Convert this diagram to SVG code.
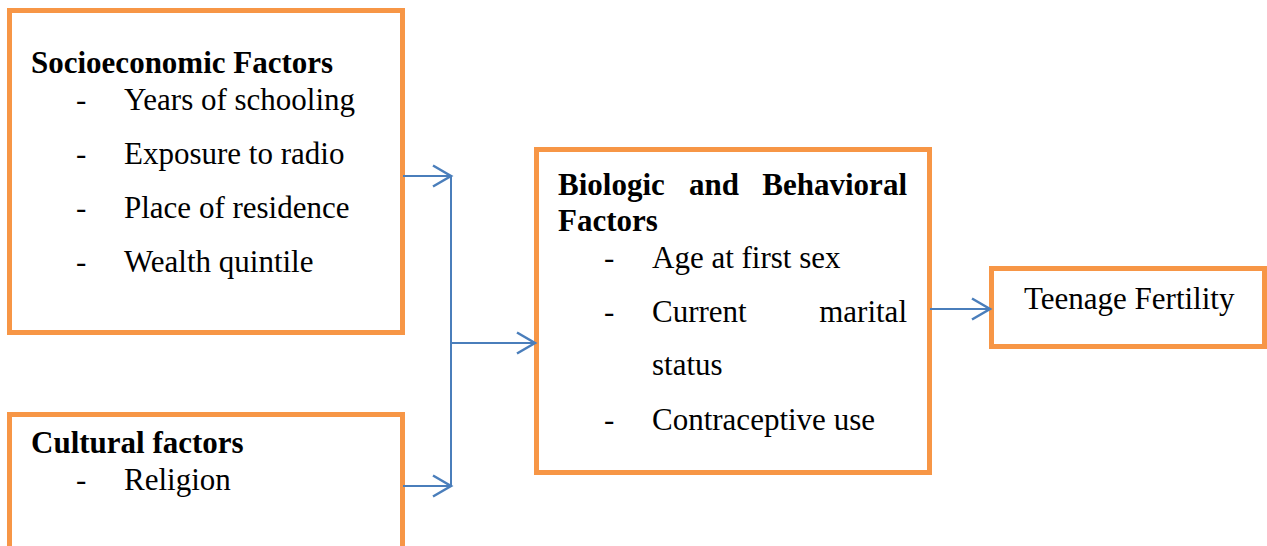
<svg xmlns="http://www.w3.org/2000/svg" width="1267" height="546" viewBox="0 0 1267 546">
<defs>
<style>
.box{fill:#fff;stroke:#F79646;stroke-width:5}
.t{font-family:"Liberation Serif","Times New Roman",serif;font-size:31px;fill:#000}
.b{font-weight:bold}
.c{fill:none;stroke:#4A7EBB;stroke-width:2}
</style>
<marker id="ah" markerUnits="userSpaceOnUse" markerWidth="24" markerHeight="26" refX="20" refY="12" orient="auto">
<path d="M2,1.5 L20,12 L2,22.5" fill="none" stroke="#4A7EBB" stroke-width="2.5"/>
</marker>
</defs>
<g id="socioeconomic">
<rect class="box" x="9.5" y="10.5" width="393" height="322"/>
<text class="t b" x="31" y="73">Socioeconomic Factors</text>
<text class="t" x="76" y="110">-</text><text class="t" x="124" y="110">Years of schooling</text>
<text class="t" x="76" y="164">-</text><text class="t" x="124" y="164">Exposure to radio</text>
<text class="t" x="76" y="218">-</text><text class="t" x="124" y="218">Place of residence</text>
<text class="t" x="76" y="272">-</text><text class="t" x="124" y="272">Wealth quintile</text>
</g>
<g id="cultural">
<rect class="box" x="9.5" y="414.5" width="393" height="150"/>
<text class="t b" x="31" y="453">Cultural factors</text>
<text class="t" x="76" y="490">-</text><text class="t" x="124" y="490">Religion</text>
</g>
<g id="biologic">
<rect class="box" x="536.5" y="149.5" width="393" height="323"/>
<text class="t b" x="558" y="195">Biologic</text>
<text class="t b" x="689" y="195">and</text>
<text class="t b" x="907" y="195" text-anchor="end">Behavioral</text>
<text class="t b" x="558" y="231">Factors</text>
<text class="t" x="604" y="268">-</text><text class="t" x="652" y="268">Age at first sex</text>
<text class="t" x="604" y="322">-</text><text class="t" x="652" y="322">Current</text>
<text class="t" x="907" y="322" text-anchor="end">marital</text>
<text class="t" x="652" y="375">status</text>
<text class="t" x="604" y="430">-</text><text class="t" x="652" y="430">Contraceptive use</text>
</g>
<g id="teenage">
<rect class="box" x="991.5" y="268.5" width="273" height="78"/>
<text class="t" x="1024" y="309">Teenage Fertility</text>
</g>
<g id="connectors">
<line class="c" x1="403" y1="176" x2="451" y2="176" marker-end="url(#ah)"/>
<line class="c" x1="403" y1="486" x2="451" y2="486" marker-end="url(#ah)"/>
<line class="c" x1="451" y1="176" x2="451" y2="486"/>
<line class="c" x1="451" y1="343" x2="535" y2="343" marker-end="url(#ah)"/>
<line class="c" x1="930" y1="309" x2="990" y2="309" marker-end="url(#ah)"/>
</g>
</svg>
